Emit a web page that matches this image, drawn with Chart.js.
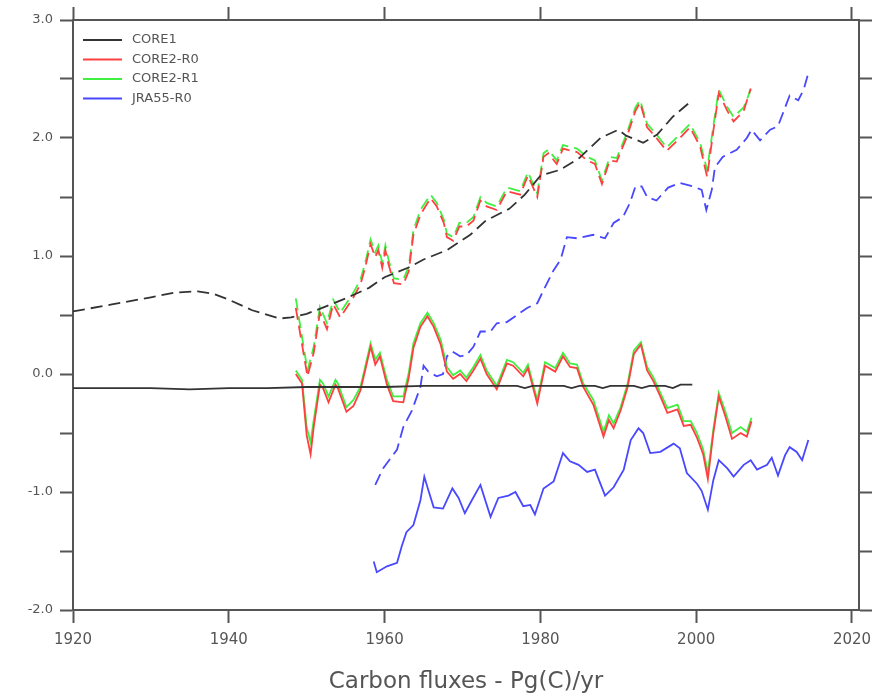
<!DOCTYPE html>
<html>
<head>
<meta charset="utf-8">
<script src="https://cdn.jsdelivr.net/npm/chart.js@4.4.1/dist/chart.umd.min.js"></script>
<style>
  html, body { margin: 0; padding: 0; background: #fff; }
  #wrap { width: 895px; height: 697px; }
</style>
</head>
<body>
<div id="wrap"><canvas id="fluxChart" width="895" height="697"></canvas></div>
<script>
// tick labels
const xTicks = [1920, 1940, 1960, 1980, 2000, 2020];
const seriesNames = ["CORE1", "CORE2-R0", "CORE2-R1", "JRA55-R0"];

// CORE1 (black)
const core1Years = [1920, 1925, 1930, 1935, 1940, 1945, 1950, 1955, 1960, 1965,
  1970, 1975, 1977, 1978, 1979, 1983, 1984, 1985, 1987, 1988,
  1989, 1992, 1993, 1994, 1996, 1997, 1998, 1999.5];
const core1Flux = [-0.12, -0.12, -0.12, -0.13, -0.12, -0.12, -0.11, -0.11, -0.11, -0.10,
  -0.10, -0.10, -0.10, -0.12, -0.10, -0.10, -0.12, -0.10, -0.10, -0.12,
  -0.10, -0.10, -0.12, -0.10, -0.10, -0.12, -0.09, -0.09];
const core1CumYears = [1920, 1925, 1930, 1933, 1936, 1938, 1940, 1943, 1946.5, 1948,
  1950, 1952, 1955, 1958, 1960, 1963, 1965, 1968, 1971, 1973,
  1976, 1978, 1980, 1982.5, 1985, 1987.7, 1990, 1991, 1993.2, 1995,
  1997, 1999.5];
const core1Cum = [0.53, 0.59, 0.65, 0.69, 0.70, 0.68, 0.63, 0.54, 0.47, 0.48,
  0.51, 0.56, 0.64, 0.73, 0.82, 0.90, 0.97, 1.05, 1.18, 1.30,
  1.40, 1.52, 1.68, 1.73, 1.83, 2.00, 2.07, 2.02, 1.96, 2.03,
  2.18, 2.32];

// CORE2 (red = R0, green = R1)
const core2Years = [1948.6, 1949.4, 1950.0, 1950.5, 1950.9, 1951.7, 1952.1, 1952.8, 1953.7, 1954.0,
  1955.1, 1956.0, 1956.9, 1957.5, 1958.2, 1958.8, 1959.4, 1960.3, 1961.1, 1962.4,
  1963.1, 1963.7, 1964.6, 1965.5, 1966.3, 1967.2, 1968.0, 1968.8, 1969.7, 1970.5,
  1971.4, 1972.3, 1973.1, 1974.4, 1975.7, 1976.5, 1977.8, 1978.4, 1979.6, 1980.6,
  1981.9, 1982.9, 1983.8, 1984.7, 1985.5, 1986.8, 1988.1, 1988.8, 1989.4, 1990.3,
  1991.2, 1992.0, 1992.9, 1993.7, 1994.5, 1995.4, 1996.3, 1997.6, 1998.4, 1999.3,
  2000.1, 2000.9, 2001.5, 2002.2, 2002.9, 2003.7, 2004.6, 2005.7, 2006.5, 2007.1];
const core2R1Flux = [0.03, -0.05, -0.45, -0.58, -0.39, -0.05, -0.08, -0.19, -0.05, -0.08,
  -0.28, -0.22, -0.11, 0.06, 0.26, 0.12, 0.18, -0.05, -0.19, -0.19,
  0.01, 0.26, 0.43, 0.52, 0.43, 0.29, 0.06, -0.01, 0.03, -0.03,
  0.06, 0.16, 0.03, -0.10, 0.12, 0.10, 0.01, 0.08, -0.22, 0.10,
  0.05, 0.18, 0.09, 0.08, -0.08, -0.22, -0.49, -0.35, -0.42, -0.28,
  -0.08, 0.20, 0.27, 0.06, -0.03, -0.16, -0.29, -0.26, -0.40, -0.40,
  -0.50, -0.64, -0.84, -0.47, -0.16, -0.31, -0.50, -0.45, -0.49, -0.37];
const core2R0Flux = [0.00, -0.08, -0.52, -0.68, -0.45, -0.09, -0.12, -0.24, -0.09, -0.12,
  -0.32, -0.27, -0.14, 0.03, 0.23, 0.08, 0.15, -0.09, -0.23, -0.24,
  -0.03, 0.22, 0.40, 0.49, 0.40, 0.25, 0.02, -0.04, 0.00, -0.06,
  0.03, 0.13, 0.00, -0.13, 0.09, 0.07, -0.02, 0.05, -0.25, 0.07,
  0.02, 0.15, 0.06, 0.05, -0.11, -0.26, -0.53, -0.39, -0.46, -0.31,
  -0.11, 0.17, 0.25, 0.03, -0.06, -0.19, -0.33, -0.30, -0.44, -0.43,
  -0.54, -0.68, -0.89, -0.50, -0.19, -0.35, -0.55, -0.50, -0.53, -0.40];
const core2CumYears = [1948.6, 1950.1, 1950.9, 1951.7, 1952.6, 1953.4, 1954.3, 1955.1, 1956.0, 1956.9,
  1957.5, 1958.2, 1958.8, 1959.2, 1959.7, 1960.1, 1960.5, 1961.2, 1962.4, 1963.1,
  1963.7, 1964.6, 1965.9, 1966.7, 1967.6, 1968.0, 1968.8, 1969.6, 1970.5, 1971.4,
  1972.3, 1973.1, 1974.4, 1975.7, 1977.4, 1978.4, 1979.6, 1980.4, 1981.0, 1982.1,
  1982.9, 1984.7, 1986.0, 1987.0, 1987.9, 1988.9, 1989.8, 1991.1, 1992.2, 1992.8,
  1993.7, 1994.9, 1996.2, 1997.9, 1999.2, 2000.5, 2001.4, 2002.2, 2002.9, 2004.0,
  2004.8, 2006.1, 2007.0];
const core2R1Cum = [0.64, 0.03, 0.23, 0.57, 0.43, 0.63, 0.52, 0.60, 0.69, 0.80,
  0.94, 1.14, 1.03, 1.09, 0.94, 1.09, 0.97, 0.81, 0.80, 0.91,
  1.22, 1.39, 1.52, 1.45, 1.31, 1.19, 1.16, 1.28, 1.28, 1.33,
  1.50, 1.45, 1.42, 1.58, 1.55, 1.71, 1.53, 1.87, 1.90, 1.81,
  1.94, 1.91, 1.84, 1.81, 1.64, 1.84, 1.83, 2.04, 2.26, 2.32,
  2.12, 2.03, 1.92, 2.03, 2.12, 1.96, 1.73, 2.10, 2.41, 2.26,
  2.18, 2.26, 2.41];
const core2R0Cum = [0.56, -0.02, 0.18, 0.52, 0.38, 0.59, 0.48, 0.56, 0.65, 0.76,
  0.90, 1.10, 0.99, 1.05, 0.90, 1.05, 0.93, 0.77, 0.76, 0.87,
  1.18, 1.35, 1.49, 1.42, 1.28, 1.16, 1.13, 1.25, 1.25, 1.30,
  1.47, 1.42, 1.39, 1.55, 1.52, 1.68, 1.50, 1.84, 1.87, 1.78,
  1.91, 1.88, 1.81, 1.78, 1.61, 1.81, 1.80, 2.01, 2.23, 2.30,
  2.09, 2.00, 1.89, 2.00, 2.09, 1.93, 1.67, 2.06, 2.38, 2.23,
  2.14, 2.23, 2.42];

// JRA55-R0 (blue)
const jraYears = [1958.6, 1959.0, 1960.3, 1961.6, 1962.2, 1962.8, 1963.7, 1964.6, 1965.1, 1965.6,
  1966.3, 1967.5, 1968.7, 1969.5, 1970.3, 1971.2, 1972.3, 1973.6, 1974.6, 1975.9,
  1976.8, 1977.8, 1978.7, 1979.3, 1980.4, 1981.7, 1982.3, 1982.9, 1983.8, 1984.9,
  1986.0, 1987.0, 1988.3, 1989.4, 1990.7, 1991.6, 1992.6, 1993.2, 1994.1, 1995.4,
  1997.1, 1997.9, 1998.8, 2000.1, 2000.7, 2001.5, 2002.2, 2002.9, 2004.0, 2004.8,
  2006.1, 2007.0, 2007.8, 2009.1, 2009.7, 2010.5, 2011.4, 2012.0, 2012.9, 2013.6,
  2014.4];
const jraFlux = [-1.59, -1.68, -1.63, -1.60, -1.46, -1.34, -1.28, -1.07, -0.87, -0.98,
  -1.13, -1.14, -0.97, -1.05, -1.18, -1.07, -0.94, -1.21, -1.05, -1.03,
  -1.00, -1.12, -1.11, -1.19, -0.97, -0.91, -0.79, -0.67, -0.74, -0.77,
  -0.83, -0.81, -1.03, -0.96, -0.81, -0.56, -0.46, -0.50, -0.67, -0.66,
  -0.59, -0.63, -0.84, -0.93, -0.99, -1.15, -0.90, -0.73, -0.80, -0.87,
  -0.77, -0.73, -0.81, -0.77, -0.71, -0.86, -0.69, -0.62, -0.66, -0.73,
  -0.56];
const jraCumYears = [1958.8, 1959.8, 1961.6, 1962.4, 1963.5, 1964.6, 1965.0, 1965.6, 1966.7, 1967.5,
  1968.0, 1968.7, 1969.7, 1970.5, 1971.4, 1972.3, 1973.6, 1974.4, 1975.7, 1977.0,
  1978.3, 1979.6, 1980.4, 1981.7, 1982.6, 1983.4, 1984.7, 1986.8, 1988.3, 1989.4,
  1990.6, 1991.5, 1992.2, 1993.0, 1993.7, 1994.9, 1996.4, 1997.9, 1999.6, 2000.7,
  2001.3, 2002.0, 2002.4, 2003.4, 2005.2, 2006.5, 2007.1, 2008.2, 2009.5, 2010.5,
  2012.0, 2013.1, 2013.8, 2014.4];
const jraCum = [-0.94, -0.80, -0.64, -0.45, -0.31, -0.11, 0.07, 0.02, -0.02, 0.00,
  0.15, 0.19, 0.15, 0.16, 0.23, 0.36, 0.36, 0.43, 0.44, 0.50,
  0.56, 0.60, 0.71, 0.88, 0.97, 1.16, 1.15, 1.18, 1.15, 1.28,
  1.33, 1.45, 1.59, 1.59, 1.50, 1.47, 1.58, 1.62, 1.59, 1.56,
  1.39, 1.56, 1.75, 1.84, 1.90, 2.00, 2.07, 1.98, 2.07, 2.10,
  2.36, 2.32, 2.41, 2.55];

const seriesColors = ["#333333", "#ff4040", "#40f040", "#4848ff"];
const FONT = "'DejaVu Sans', sans-serif";
const INK = "#555555";

function pts(xs, ys) {
  return xs.map((x, i) => ({ x: x, y: ys[i] }));
}

function line(label, data, color, dashed) {
  return {
    label: label,
    data: data,
    borderColor: color,
    borderWidth: 1.8,
    borderDash: dashed ? [12, 6] : [],
    pointRadius: 0,
    tension: 0,
    fill: false
  };
}

// legend drawn inside the plot, top-left, like the original
const insideLegend = {
  id: 'insideLegend',
  afterDatasetsDraw(chart) {
    const ctx = chart.ctx;
    const a = chart.chartArea;
    ctx.save();
    ctx.font = "13px " + FONT;
    ctx.textBaseline = 'middle';
    seriesNames.forEach((name, i) => {
      const y = a.top + 20 + i * 19.5;
      ctx.strokeStyle = seriesColors[i];
      ctx.lineWidth = 1.8;
      ctx.beginPath();
      ctx.moveTo(a.left + 10, y);
      ctx.lineTo(a.left + 49, y);
      ctx.stroke();
      ctx.fillStyle = INK;
      ctx.fillText(name, a.left + 59, y);
    });
    ctx.restore();
  }
};

const gridOpts = {
  display: true,
  drawOnChartArea: false,
  drawTicks: true,
  tickLength: 13,
  tickWidth: 2,
  tickColor: INK,
  color: INK
};
const borderOpts = { display: true, color: INK, width: 2 };

let ctx = document.getElementById("fluxChart").getContext('2d');
new Chart(ctx, {
  type: 'line',
  data: {
    datasets: [
      line(seriesNames[0], pts(core1Years, core1Flux), seriesColors[0], false),
      line(seriesNames[0] + " cum", pts(core1CumYears, core1Cum), seriesColors[0], true),
      line(seriesNames[1], pts(core2Years, core2R0Flux), seriesColors[1], false),
      line(seriesNames[1] + " cum", pts(core2CumYears, core2R0Cum), seriesColors[1], true),
      line(seriesNames[2], pts(core2Years, core2R1Flux), seriesColors[2], false),
      line(seriesNames[2] + " cum", pts(core2CumYears, core2R1Cum), seriesColors[2], true),
      line(seriesNames[3], pts(jraYears, jraFlux), seriesColors[3], false),
      line(seriesNames[3] + " cum", pts(jraCumYears, jraCum), seriesColors[3], true)
    ]
  },
  options: {
    responsive: false,
    maintainAspectRatio: false,
    animation: false,
    layout: { padding: 0 },
    plugins: {
      legend: { display: false },
      tooltip: { enabled: false }
    },
    scales: {
      x: {
        type: 'linear', position: 'bottom', min: 1920, max: 2020.9,
        afterBuildTicks: s => { s.ticks = xTicks.map(v => ({ value: v })); },
        afterFit: s => { s.height = 87; },
        grid: gridOpts, border: borderOpts,
        ticks: { color: INK, font: { family: FONT, size: 15 }, padding: 8, maxRotation: 0,
          callback: v => String(v) },
        title: { display: true, text: "Carbon fluxes - Pg(C)/yr", color: INK,
          font: { family: FONT, size: 23 }, padding: { top: 2, bottom: 1 } }
      },
      xTop: {
        type: 'linear', position: 'top', min: 1920, max: 2020.9,
        afterBuildTicks: s => { s.ticks = xTicks.map(v => ({ value: v })); },
        afterFit: s => { s.height = 20; },
        grid: gridOpts, border: borderOpts,
        ticks: { display: false }
      },
      y: {
        type: 'linear', position: 'left', min: -2, max: 3,
        afterFit: s => { s.width = 73; },
        grid: gridOpts, border: borderOpts,
        ticks: { stepSize: 0.5, color: INK, padding: 7, font: { family: FONT, size: 13 },
          callback: v => (Math.abs(v - Math.round(v)) < 1e-6 ? v.toFixed(1) : '') }
      },
      yRight: {
        type: 'linear', position: 'right', min: -2, max: 3,
        afterFit: s => { s.width = 36; },
        grid: gridOpts, border: borderOpts,
        ticks: { stepSize: 0.5, display: false }
      }
    }
  },
  plugins: [insideLegend]
});
</script>
</body>
</html>
